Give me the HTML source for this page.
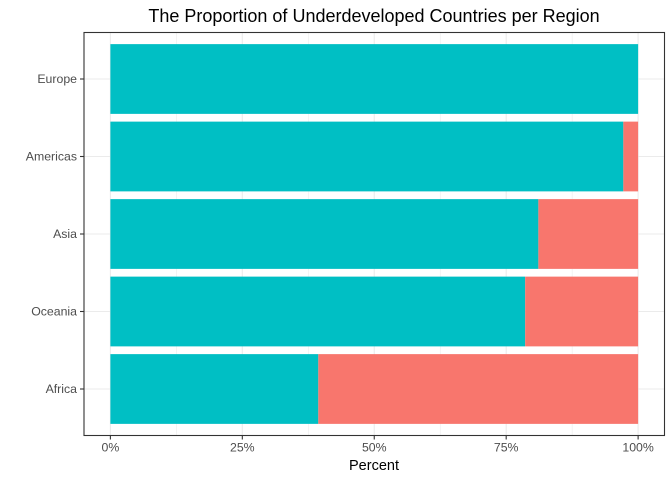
<!DOCTYPE html>
<html><head><meta charset="utf-8"><style>
body{margin:0;background:#fff;}
text{font-family:"Liberation Sans",sans-serif;}
</style></head><body>
<svg id="chart" width="672" height="480" xmlns="http://www.w3.org/2000/svg">
<rect width="672" height="480" fill="#fff"/>
<text x="374" y="22" text-anchor="middle" font-size="18" fill="#000">The Proportion of Underdeveloped Countries per Region</text>
<g id="grid"></g><g id="bars"></g><g id="axes"></g>
<rect x="84" y="32.5" width="580.5" height="403" fill="none" stroke="#333" stroke-width="1.1"/>
<text x="374" y="470" text-anchor="middle" font-size="14.5" fill="#000">Percent</text>
</svg>
<script>
const categories=["Europe","Americas","Asia","Oceania","Africa"];
const developed=[100,97.2,81.1,78.6,39.4];
const underdeveloped=[0,2.8,18.9,21.4,60.6];
const xTicks=[0,25,50,75,100];
const xTickLabels=["0%","25%","50%","75%","100%"];
const NS="http://www.w3.org/2000/svg";
const x0=84,x1=664.5,y0=32.5,y1=435.5;
const xs=v=>x0+(v+5)/110*(x1-x0);
const step=(y1-y0)/(categories.length+0.2);
const ys=i=>y0+step*(0.6+i);
function mk(t,a,p){const e=document.createElementNS(NS,t);for(const k in a)e.setAttribute(k,a[k]);p.appendChild(e);return e;}
const g=document.getElementById('grid'),b=document.getElementById('bars'),ax=document.getElementById('axes');
for(let v=0;v<=100;v+=12.5){const l=mk('line',{x1:xs(v),x2:xs(v),y1:y0,y2:y1,stroke:'#ebebeb','stroke-width':v%25?0.6:1.1},g);

}
categories.forEach((c,i)=>{const l=mk('line',{x1:x0,x2:x1,y1:ys(i),y2:ys(i),stroke:'#ebebeb','stroke-width':1.1},g);


const h=step*0.9,y=ys(i)-h/2;
const r1=mk('rect',{x:xs(0),y:y,width:xs(developed[i])-xs(0),height:h,fill:'#00bfc4'},b);


const r2=mk('rect',{x:xs(developed[i]),y:y,width:xs(developed[i]+underdeveloped[i])-xs(developed[i]),height:h,fill:'#f8766d'},b);


mk('line',{x1:x0-4,x2:x0,y1:ys(i),y2:ys(i),stroke:'#333','stroke-width':1.1},ax);
const t=mk('text',{x:x0-7,y:ys(i)+4,'text-anchor':'end','font-size':12.3,fill:'#4d4d4d'},ax);t.textContent=c;

});
xTicks.forEach((v,i)=>{mk('line',{x1:xs(v),x2:xs(v),y1:y1,y2:y1+4,stroke:'#333','stroke-width':1.1},ax);
const t=mk('text',{x:xs(v),y:y1+16,'text-anchor':'middle','font-size':12.3,fill:'#4d4d4d'},ax);t.textContent=xTickLabels[i];

});
</script>
</body></html>
